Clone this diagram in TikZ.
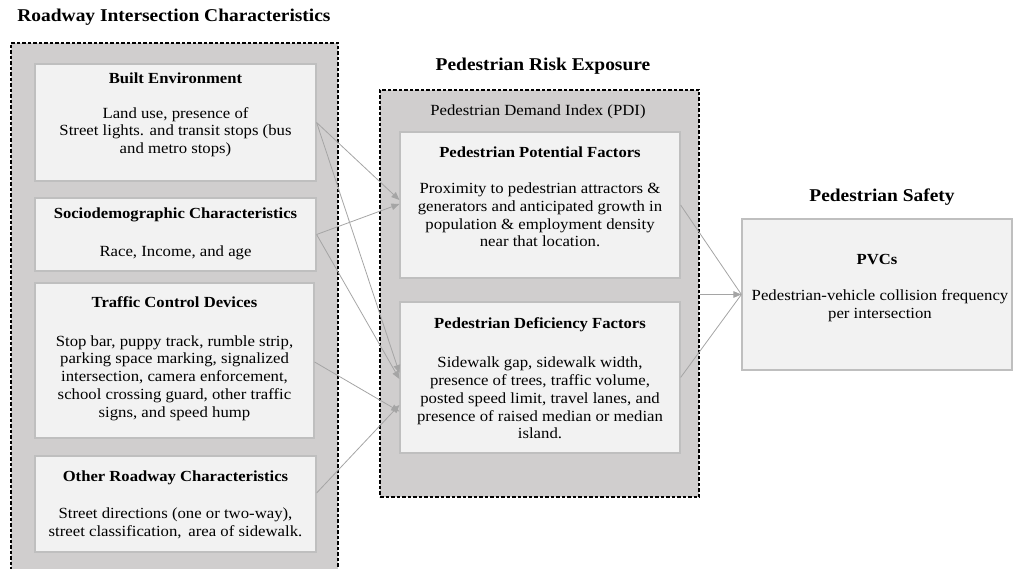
\documentclass[tikz,border=0pt]{standalone}
\usepackage{fontspec}
\setmainfont[FakeStretch=1.08]{Liberation Serif}
\usetikzlibrary{arrows.meta}
\definecolor{outergrey}{HTML}{D0CECE}
\definecolor{innerfill}{HTML}{F2F2F2}
\definecolor{innerline}{HTML}{BFBFBF}
\definecolor{arrowgrey}{HTML}{A5A5A5}
\begin{document}
\begin{tikzpicture}[x=1pt,y=-1pt,
  groupbox/.style={draw=black, fill=outergrey, line width=1.1pt, dash pattern=on 3.5pt off 2pt, inner sep=0pt, minimum width=#1},
  factorbox/.style={draw=innerline, fill=innerfill, line width=1.2pt, inner sep=0pt},
  header/.style={font=\fontsize{18}{21}\selectfont\bfseries},
  boxtitle/.style={font=\fontsize{15.4}{18}\selectfont\bfseries},
  boxbody/.style={font=\fontsize{15.5}{17.8}\selectfont, align=center},
  link/.style={draw=arrowgrey, line width=0.8pt},
  linkarrow/.style={link, -{Triangle[length=8pt,width=6.5pt]}, arrowgrey}
]
\useasboundingbox (0,0) rectangle (1013,569);

% headers
\node[header] (h1) at (174,17) {Roadway Intersection Characteristics};
\node[header] (h2) at (543,66) {Pedestrian Risk Exposure};
\node[header] (h3) at (882,197) {Pedestrian Safety};

% group boxes
\node[groupbox=327pt, minimum height=532pt] (left) at (174.5,309) {};
\node[groupbox=319pt, minimum height=407pt] (mid) at (539.5,293.5) {};
\node[font=\fontsize{15.5}{17.8}\selectfont] (pdi) at (538,112) {Pedestrian Demand Index (PDI)};

% left factor boxes
\node[factorbox, minimum width=281pt, minimum height=117pt] (built) at (175.5,122.5) {};
\node[factorbox, minimum width=281pt, minimum height=73pt] (socio) at (175.5,234.5) {};
\node[factorbox, minimum width=279pt, minimum height=155pt] (traffic) at (174.5,360.5) {};
\node[factorbox, minimum width=281pt, minimum height=96pt] (other) at (175.5,504) {};

% middle factor boxes
\node[factorbox, minimum width=280pt, minimum height=146pt] (pot) at (540,205) {};
\node[factorbox, minimum width=280pt, minimum height=151pt] (def) at (540,377.5) {};

% PVC box
\node[factorbox, minimum width=270pt, minimum height=151pt] (pvc) at (877,294.5) {};

% texts
\node[boxtitle] (builtT) at (175.5,78) {Built Environment};
\node[boxbody] (builtB) at (175.5,132) {Land use, presence of\\Street lights. and transit stops (bus\\and metro stops)};
\node[boxtitle] (socioT) at (175.5,215) {Sociodemographic Characteristics};
\node[boxbody] (socioB) at (175.5,253) {Race, Income, and age};
\node[boxtitle] (trafficT) at (174.5,302) {Traffic Control Devices};
\node[boxbody] (trafficB) at (174.5,378) {Stop bar, puppy track, rumble strip,\\parking space marking, signalized\\intersection, camera enforcement,\\school crossing guard, other traffic\\signs, and speed hump};
\node[boxtitle] (otherT) at (175.5,478) {Other Roadway Characteristics};
\node[boxbody] (otherB) at (175.5,523) {Street directions (one or two-way),\\street classification,\, area of sidewalk.};

\node[boxtitle] (potT) at (540,152) {Pedestrian Potential Factors};
\node[boxbody] (potB) at (540,215) {Proximity to pedestrian attractors \&\\generators and anticipated growth in\\population \& employment density\\near that location.};
\node[boxtitle] (defT) at (540,325) {Pedestrian Deficiency Factors};
\node[boxbody] (defB) at (540,398) {Sidewalk gap, sidewalk width,\\presence of trees, traffic volume,\\posted speed limit, travel lanes, and\\presence of raised median or median\\island.};

\node[boxtitle] (pvcT) at (877,260) {PVCs};
\node[boxbody] (pvcB) at (880,306) {Pedestrian-vehicle collision frequency\\per intersection};

% connectors left -> middle
\draw[linkarrow] (built.east) -- ([yshift=5pt]pot.west);
\draw[linkarrow] (built.east) -- ([yshift=4.5pt]def.west);
\draw[linkarrow] (socio.east) -- ([yshift=1pt]pot.west);
\draw[linkarrow] (socio.east) -- ([yshift=-1.5pt]def.west);
\draw[linkarrow] ([yshift=-1.5pt]traffic.east) -- ([yshift=-34pt]def.west);
\draw[linkarrow] ([yshift=11pt]other.east) -- ([yshift=-27.5pt]def.west);

% connectors middle -> PVC
\draw[link] (pot.east) -- (pvc.west);
\draw[link] (def.east) -- (pvc.west);
\draw[linkarrow] (mid.east |- pvc.west) -- (pvc.west);
\end{tikzpicture}
\end{document}
